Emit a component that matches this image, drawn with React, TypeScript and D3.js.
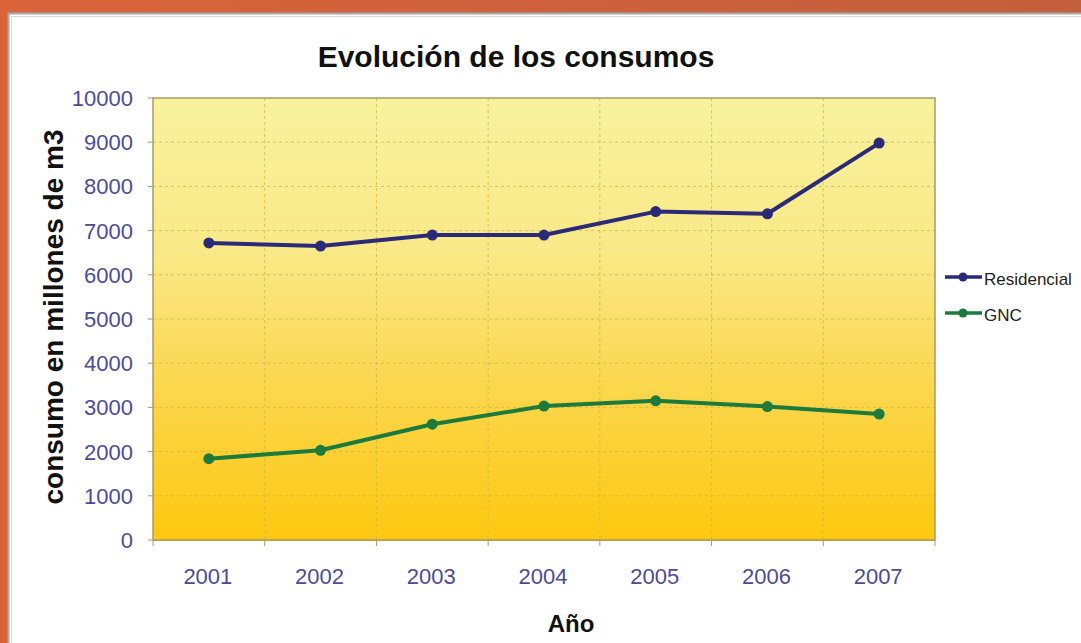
import React from "react";
import * as d3 from "d3";

const years = ["2001", "2002", "2003", "2004", "2005", "2006", "2007"];
const residencial = [6720, 6650, 6900, 6900, 7430, 7380, 8980];
const gnc = [1840, 2030, 2620, 3030, 3150, 3020, 2850];
const yTicks = [0, 1000, 2000, 3000, 4000, 5000, 6000, 7000, 8000, 9000, 10000];

const W = 1081, H = 643;
const plot = { left: 153, top: 98, right: 935, bottom: 540 };

export default function App() {
  const x = d3.scaleBand<string>().domain(years).range([plot.left, plot.right]);
  const y = d3.scaleLinear().domain([0, 10000]).range([plot.bottom, plot.top]);
  const line = d3.line<number>().x((_, i) => (x(years[i]) as number) + x.bandwidth() / 2).y((d) => y(d));
  const series = [
    { name: "Residencial", values: residencial, color: "#2b2a78" },
    { name: "GNC", values: gnc, color: "#1b7a3c" },
  ];
  const font = "Liberation Sans, Arial, sans-serif";
  const tickColor = "#4b4c98";
  const boundaries = years.map((yr) => x(yr) as number).concat([plot.right]);
  return (
    <svg width={W} height={H} style={{ position: "absolute", left: 0, top: 0 }}>
      <defs>
        <linearGradient id="bg" x1="0" y1="0" x2="0" y2="1">
          <stop offset="0" stopColor="#f8f29e" />
          <stop offset="0.35" stopColor="#f9e987" />
          <stop offset="0.6" stopColor="#fbd957" />
          <stop offset="1" stopColor="#fdc80f" />
        </linearGradient>
        <linearGradient id="frame" x1="0" y1="0" x2="1" y2="0">
          <stop offset="0" stopColor="#d9643a" />
          <stop offset="1" stopColor="#c35f3e" />
        </linearGradient>
      </defs>
      <rect x={0} y={0} width={W} height={H} fill="url(#frame)" />
      <rect x={8} y={13} width={W - 8} height={H - 13} fill="#ffffff" />
      <path d={`M8.5,${H} V13.5 H${W}`} fill="none" stroke="#a8a8a8" strokeWidth={2} />
      <path d={`M11.5,${H} V16.5 H${W}`} fill="none" stroke="#d8d8d8" strokeWidth={1} />

      <rect x={plot.left} y={plot.top} width={plot.right - plot.left} height={plot.bottom - plot.top} fill="url(#bg)" />
      {yTicks.slice(1, -1).map((t) => (
        <line key={t} x1={plot.left} x2={plot.right} y1={y(t)} y2={y(t)} stroke="#d2b64a" strokeWidth={1} strokeDasharray="3,3" opacity={0.8} />
      ))}
      {boundaries.slice(1, -1).map((b, i) => (
        <line key={i} x1={b} x2={b} y1={plot.top} y2={plot.bottom} stroke="#d2b64a" strokeWidth={1} strokeDasharray="3,3" opacity={0.8} />
      ))}
      <rect x={plot.left} y={plot.top} width={plot.right - plot.left} height={plot.bottom - plot.top} fill="none" stroke="#a89a6a" strokeWidth={1.5} />
      <line x1={plot.left} x2={plot.right} y1={plot.bottom} y2={plot.bottom} stroke="#b9a250" strokeWidth={2} />
      {boundaries.map((b, i) => (
        <line key={i} x1={b} x2={b} y1={plot.bottom} y2={plot.bottom + 6} stroke="#a89a6a" strokeWidth={1} />
      ))}
      {yTicks.map((t) => (
        <line key={t} x1={plot.left - 5} x2={plot.left} y1={y(t)} y2={y(t)} stroke="#a89a6a" strokeWidth={1} />
      ))}

      {yTicks.map((t) => (
        <text key={t} x={133} y={y(t)} dy="0.36em" textAnchor="end" fontFamily={font} fontSize={22} fill={tickColor}>
          {t}
        </text>
      ))}
      {years.map((yr) => (
        <text key={yr} x={(x(yr) as number) + x.bandwidth() / 2 - 1} y={584} textAnchor="middle" fontFamily={font} fontSize={22} fill={tickColor}>
          {yr}
        </text>
      ))}

      {series.map((s) => (
        <g key={s.name}>
          <path d={line(s.values) as string} fill="none" stroke={s.color} strokeWidth={4} strokeLinejoin="round" />
          {s.values.map((v, i) => (
            <circle key={i} cx={(x(years[i]) as number) + x.bandwidth() / 2} cy={y(v)} r={5.5} fill={s.color} />
          ))}
        </g>
      ))}

      <text x={516} y={67} textAnchor="middle" fontFamily={font} fontSize={30} fontWeight="bold" fill="#111">
        Evolución de los consumos
      </text>
      <text transform="translate(63,317) rotate(-90)" textAnchor="middle" fontFamily={font} fontSize={28} fontWeight="bold" fill="#111">
        consumo en millones de m3
      </text>
      <text x={571} y={632} textAnchor="middle" fontFamily={font} fontSize={24} fontWeight="bold" fill="#111">
        Año
      </text>

      {series.map((s, i) => {
        const ly = 277 + i * 36;
        return (
          <g key={s.name}>
            <line x1={945} x2={982} y1={ly} y2={ly} stroke={s.color} strokeWidth={3.5} />
            <circle cx={963} cy={ly} r={4.5} fill={s.color} />
            <text x={984} y={ly + 8} fontFamily={font} fontSize={17} fill="#222">
              {s.name}
            </text>
          </g>
        );
      })}
    </svg>
  );
}
